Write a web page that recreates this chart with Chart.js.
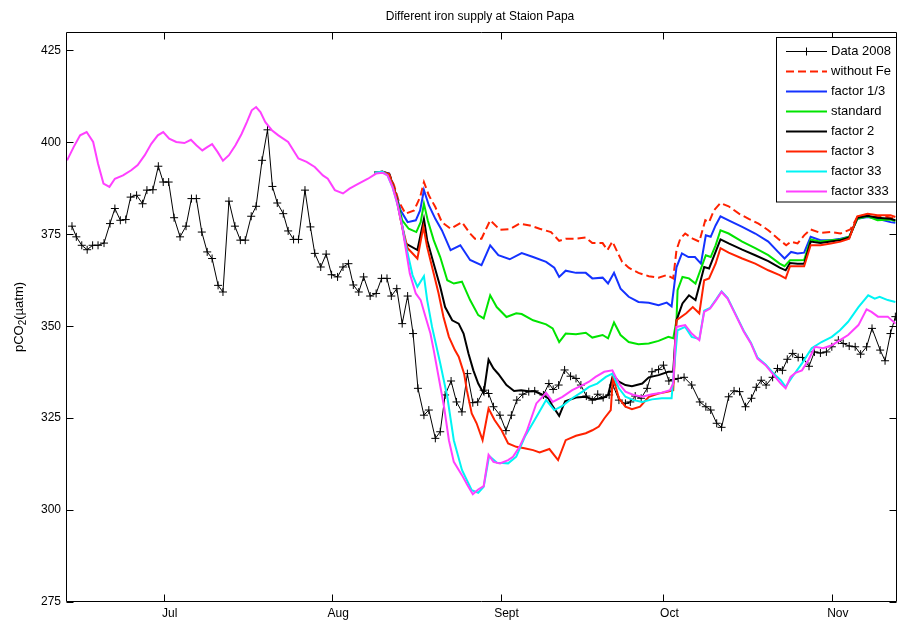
<!DOCTYPE html>
<html>
<head>
<meta charset="utf-8">
<script src="https://cdn.jsdelivr.net/npm/chart.js@4.4.1/dist/chart.umd.min.js"></script>
<style>
html,body{margin:0;padding:0;background:#fff;}
canvas{display:block;}
</style>
</head>
<body>
<canvas id="c" width="902" height="622"></canvas>
<script>
// ---- axis ticks (day of year 2008) ----
const monthTicks = [183, 214, 245, 275, 306];
const monthLabels = ['Jul', 'Aug', 'Sept', 'Oct', 'Nov'];
const yTicks = [275, 300, 325, 350, 375, 400, 425];
const seriesNames = ['Data 2008', 'without Fe', 'factor 1/3', 'standard', 'factor 2', 'factor 3', 'factor 33', 'factor 333'];

// ---- Data 2008 ----
const dataDays = [166.1,166.9,167.9,168.9,169.9,170.9,172.0,173.1,174.0,175.0,176.0,176.9,178.0,179.1,179.9,181.0,182.0,182.9,183.9,184.9,186.0,187.1,188.1,189.0,190.0,191.0,191.9,193.0,193.9,195.0,196.1,197.1,198.0,199.1,200.0,201.1,202.1,203.0,203.9,205.0,205.9,206.9,207.8,209.0,210.0,210.8,211.9,212.9,213.9,215.0,216.0,217.0,217.9,218.9,219.8,221.0,222.1,223.1,224.1,224.9,225.9,226.9,227.9,228.9,229.8,230.9,231.8,233.0,233.9,234.8,235.9,236.9,237.9,238.9,239.9,240.8,241.9,242.8,243.7,244.9,246.0,247.0,248.0,249.1,250.2,251.3,252.9,253.9,254.7,255.7,256.8,257.9,258.9,259.8,260.8,261.9,262.9,263.9,265.0,265.7,266.8,268.0,268.9,269.8,270.9,272.0,272.9,274.1,275.0,276.0,276.9,277.7,278.8,280.2,281.7,282.8,283.7,284.8,285.7,287.0,288.0,289.0,290.1,291.2,292.1,293.0,293.9,295.1,296.0,296.9,297.8,298.8,299.8,300.6,301.8,302.8,303.9,305.0,306.0,307.2,308.1,309.2,310.3,311.3,312.4,313.4,314.9,315.8,316.8,317.7];
const dataValues = [377.2,374.3,372.0,370.8,372.0,372.0,372.6,377.9,382.0,378.8,379.0,385.1,385.6,383.3,387.0,387.1,393.5,389.2,389.2,379.5,374.3,377.2,384.7,384.7,375.6,370.2,368.4,361.1,359.3,384.0,377.2,373.4,373.4,379.9,382.6,395.1,403.4,388.0,383.5,380.6,375.9,373.6,373.6,387.0,377.0,369.8,366.1,369.6,364.0,363.4,366.1,367.0,361.2,359.3,363.4,358.2,358.9,363.0,363.0,358.2,360.2,350.7,358.2,348.0,333.1,325.8,327.2,319.5,321.3,331.3,335.1,329.4,326.7,337.1,329.2,329.4,332.6,331.7,328.1,325.8,321.6,325.8,329.9,331.5,332.2,332.4,331.3,334.4,332.8,334.0,338.1,336.4,335.8,334.0,331.0,329.9,331.5,330.6,331.3,334.0,329.9,329.0,329.4,331.0,330.4,333.1,337.6,338.2,339.4,335.1,335.5,335.8,336.1,334.0,329.4,328.1,327.2,323.6,322.5,330.8,332.4,332.2,328.1,330.4,333.4,335.3,334.0,336.1,338.5,338.0,341.0,342.6,341.5,341.5,339.1,343.0,342.7,343.0,344.4,346.2,345.3,344.6,344.4,342.4,344.4,349.4,343.5,340.6,348.0,352.6];

// ---- without Fe ----
const noFeDays = [221.8,223.3,224.5,225.4,226.3,227.5,229.1,230.2,230.9,231.8,233.0,234.2,235.8,237.9,239.4,240.3,241.5,243.1,244.9,246.7,248.5,250.4,252.2,254.3,255.8,257.0,258.9,260.7,261.9,263.8,264.7,265.6,266.5,267.4,268.6,270.4,272.3,274.1,275.6,276.8,277.4,278.1,279.0,280.4,281.6,282.7,283.4,284.3,285.5,287.0,288.9,290.7,292.5,294.3,296.1,297.6,298.5,299.7,300.9,302.1,303.9,305.8,307.6,309.4,310.7,312.2,313.8,315.6,317.7];
const noFeValues = [391.8,392.0,391.5,388.3,383.8,380.6,381.5,385.1,389.2,385.6,382.4,378.3,376.5,378.3,375.2,373.8,373.8,378.8,376.2,376.4,377.9,377.4,376.5,375.6,373.2,373.8,373.8,374.1,372.6,372.6,370.7,373.0,370.2,367.5,365.9,364.5,363.6,363.2,363.9,363.0,370.7,373.8,375.2,373.8,373.0,378.8,378.3,381.5,383.5,382.6,380.6,379.2,377.9,376.1,373.8,372.0,373.0,372.5,374.7,376.3,375.4,375.6,375.2,376.3,379.7,380.3,379.7,379.9,379.2];

// ---- factor 1/3 ----
const f13Days = [221.8,223.3,224.5,225.7,226.6,227.9,229.4,230.2,230.9,231.8,233.0,234.2,235.8,237.6,239.4,241.5,243.1,244.6,246.7,248.9,251.0,253.4,254.9,255.8,257.0,258.9,260.7,261.9,263.8,264.8,265.9,267.1,268.6,270.4,272.3,274.1,275.6,276.5,277.4,278.4,279.6,280.8,281.9,282.8,283.7,284.6,285.5,287.0,289.5,291.9,294.3,296.1,297.3,298.5,299.7,300.9,302.1,303.9,305.8,307.6,309.2,310.7,312.6,314.4,316.8,317.7];
const f13Values = [391.8,392.0,391.5,386.1,381.5,378.3,378.8,381.5,387.0,382.9,379.2,376.1,370.7,372.0,368.0,366.6,372.0,369.3,368.2,369.9,368.8,367.5,365.9,363.4,365.1,364.5,364.5,363.0,363.2,361.6,364.5,360.2,358.0,356.6,356.4,355.7,356.4,355.4,366.0,369.8,368.8,368.8,367.0,374.7,374.3,377.4,379.9,378.8,377.0,375.2,373.0,370.2,368.4,370.2,369.8,370.0,374.3,373.4,373.4,373.8,374.3,379.2,379.7,379.2,378.3,378.1];

// ---- standard ----
const stdDays = [221.8,223.3,224.5,225.7,226.9,228.1,229.5,230.3,230.9,231.6,232.7,233.9,235.2,236.4,237.9,239.4,240.9,241.9,243.1,244.3,246.1,247.9,248.9,251.0,253.4,254.6,255.8,257.0,258.9,260.7,261.9,263.8,264.8,265.9,267.1,268.6,270.4,272.3,274.1,275.9,276.8,277.4,277.6,278.5,279.7,280.9,282.8,283.7,284.6,285.5,287.0,289.5,291.9,294.3,296.4,297.3,298.3,299.7,300.9,302.1,303.9,305.8,307.6,309.2,310.7,312.6,314.4,316.8,317.7];
const stdValues = [391.8,392.0,391.3,386.0,378.8,376.5,375.6,378.3,383.3,378.8,373.4,368.8,362.5,361.6,362.1,357.1,353.0,352.1,358.4,355.2,352.5,353.5,353.3,351.6,350.5,349.4,345.7,348.0,347.8,348.2,346.9,347.6,346.7,351.0,347.6,345.7,345.1,345.3,346.0,347.1,346.7,351.6,359.8,363.4,363.0,361.6,369.3,368.8,372.0,376.1,375.2,373.0,371.2,369.3,367.0,366.3,367.9,367.9,368.0,373.6,373.0,373.4,373.6,374.3,379.2,379.9,378.8,379.0,378.6];

// ---- factor 2 ----
const f2Days = [221.8,223.3,224.5,225.7,226.6,227.5,229.7,230.9,231.5,232.7,233.9,234.8,236.1,237.3,238.2,239.1,240.0,240.9,241.9,242.8,243.7,244.6,246.1,247.5,248.8,250.2,251.3,252.5,253.8,254.5,255.8,256.9,258.9,260.7,261.9,263.8,264.8,265.7,266.8,268.0,269.2,271.1,272.3,274.1,275.9,276.8,277.4,278.5,279.7,280.9,282.5,283.4,284.6,285.5,287.0,289.5,291.9,294.3,296.4,297.5,298.3,299.7,300.9,302.1,303.9,305.8,307.6,309.2,310.7,312.6,314.4,316.8,317.7];
const f2Values = [391.8,392.0,391.3,386.0,379.5,372.5,370.7,379.2,373.4,367.0,360.7,355.2,351.6,350.7,348.0,342.6,338.0,334.4,331.7,340.9,338.5,337.0,334.0,332.4,332.6,332.3,332.3,331.5,330.4,328.5,325.6,329.6,330.6,330.8,330.1,330.4,331.3,336.7,334.9,334.0,333.7,334.4,336.1,336.7,337.6,337.6,351.6,356.2,358.4,357.1,366.1,365.7,370.2,373.6,372.5,370.8,369.3,367.7,365.9,365.2,367.2,367.0,367.0,373.0,372.6,373.0,373.4,374.1,379.5,380.0,379.5,379.2,378.8];

// ---- factor 3 ----
const f3Days = [221.8,223.3,224.5,225.7,226.6,227.9,229.7,230.8,231.5,232.7,233.6,234.5,235.5,236.6,237.3,238.3,238.8,239.7,240.6,241.7,242.8,243.9,245.2,246.4,247.9,249.4,251.0,252.2,254.0,255.6,257.0,258.9,260.7,261.9,263.1,264.1,265.3,265.7,266.8,268.0,269.2,270.7,272.3,274.1,275.9,276.8,277.4,279.2,280.4,281.6,282.5,283.4,284.6,285.5,287.0,289.5,291.9,294.3,296.4,297.5,298.3,299.7,300.9,302.1,303.9,305.8,307.6,309.2,310.7,312.6,314.4,316.8,317.7];
const f3Values = [391.8,392.0,391.3,386.0,379.0,371.2,368.4,377.0,371.5,364.3,358.9,352.5,347.1,343.5,341.7,337.1,332.6,326.3,323.6,319.0,327.6,324.5,321.7,318.1,317.2,316.8,316.3,315.7,316.6,313.6,319.0,320.2,320.9,321.7,322.7,324.9,327.2,336.2,330.4,328.1,327.4,328.1,330.8,331.7,332.2,332.6,351.6,353.5,355.2,353.5,362.5,363.0,367.0,371.2,370.0,368.4,367.0,365.2,363.9,363.0,366.3,366.3,366.3,372.0,372.0,372.5,373.0,373.8,379.9,380.6,380.2,380.2,379.7];

// ---- factor 33 ----
const f33Days = [221.8,223.3,224.2,225.1,226.0,226.9,227.5,228.8,229.7,230.9,231.5,232.4,233.9,235.2,236.4,237.9,239.7,240.9,241.9,242.9,244.3,246.4,247.9,249.5,251.6,253.4,254.9,256.4,258.2,260.1,261.3,262.8,264.4,265.6,266.8,268.0,269.5,271.1,272.9,274.7,276.5,277.1,277.6,279.0,280.2,281.6,282.5,283.6,284.7,285.7,286.8,288.3,289.8,291.1,292.3,293.8,295.3,296.6,297.5,298.7,300.5,302.3,304.1,306.0,307.5,309.0,310.9,312.7,313.9,314.8,316.3,317.7];
const f33Values = [391.8,392.0,391.0,387.9,383.3,377.5,372.5,363.9,360.7,363.6,357.1,349.8,339.9,330.8,319.0,310.9,305.4,304.7,306.3,314.7,312.9,312.7,314.5,320.0,325.3,329.9,327.2,328.3,330.4,332.2,333.5,334.4,336.2,337.1,333.1,330.8,329.9,329.4,330.1,330.4,330.4,340.8,348.9,349.8,347.1,346.5,354.2,355.0,357.3,359.5,357.7,353.2,348.7,345.5,341.5,339.6,337.1,335.3,333.5,336.2,339.9,344.0,345.7,347.1,348.9,351.2,355.2,358.4,357.5,358.0,357.1,356.6];

// ---- factor 333 ----
const f333Days = [165.2,166.4,167.6,168.8,170.0,170.9,171.9,173.0,174.0,175.5,177.0,178.2,179.5,180.7,181.9,182.9,184.0,185.3,186.8,188.0,189.0,190.1,191.0,191.9,192.9,193.9,195.0,196.2,197.3,198.3,199.2,200.0,200.8,201.7,202.9,204.1,205.9,207.8,209.3,210.8,212.3,213.2,214.5,216.0,217.2,218.7,220.6,222.1,223.3,224.2,225.1,226.0,226.9,227.5,228.3,229.4,230.3,231.2,232.1,232.7,233.6,234.6,235.5,236.4,237.9,238.9,239.9,240.9,241.9,242.8,243.7,244.9,246.4,247.3,248.5,249.8,251.6,253.4,254.6,256.4,258.2,260.1,261.3,262.5,264.1,265.6,266.8,268.0,269.5,271.1,272.9,274.7,276.2,276.8,277.2,277.4,279.0,280.2,281.6,282.5,283.6,284.7,285.7,286.8,288.3,289.8,291.1,292.3,293.8,295.3,296.6,297.5,298.4,299.3,300.5,301.7,302.9,304.4,306.0,307.5,309.0,310.9,312.4,313.3,314.5,316.3,317.7];
const f333Values = [395.1,398.7,401.9,402.8,400.1,394.2,388.8,387.9,390.1,391.0,392.4,393.8,396.5,399.6,401.9,402.8,401.0,400.1,399.8,400.7,399.2,397.8,398.7,399.5,397.4,395.0,396.5,399.2,402.2,405.5,408.7,409.6,408.2,405.5,403.3,401.9,400.1,395.6,394.7,393.3,391.0,390.1,387.0,386.1,387.4,388.6,390.1,391.5,391.7,391.0,387.9,383.3,377.0,371.5,364.3,358.9,357.1,352.5,348.0,343.5,336.2,328.1,319.0,313.1,309.5,306.8,304.3,305.6,306.5,315.0,313.1,312.7,313.6,314.5,317.2,321.3,329.0,331.9,329.4,330.8,332.6,334.0,334.9,336.2,337.6,338.0,334.4,332.2,331.3,330.8,331.5,331.9,332.6,334.4,346.2,349.8,350.3,348.0,346.2,353.9,354.8,357.1,359.3,357.5,353.0,348.5,345.3,341.2,339.4,336.7,334.4,333.1,336.2,337.3,338.0,340.8,344.4,344.0,344.8,346.2,347.6,350.3,354.6,353.9,352.6,352.6,350.7];

const FONT = 'Liberation Sans, Arial, Helvetica, sans-serif';
const toXY = (xs, ys) => xs.map((x, i) => ({x: x, y: ys[i]}));

const styles = [
  {color: '#000000', width: 1, dash: [], marker: true},
  {color: '#ff2200', width: 2, dash: [8, 4]},
  {color: '#1432ff', width: 2, dash: []},
  {color: '#00e400', width: 2, dash: []},
  {color: '#000000', width: 2, dash: []},
  {color: '#ff2200', width: 2, dash: []},
  {color: '#00f4f4', width: 2, dash: []},
  {color: '#ff40ff', width: 2, dash: []}
];
const seriesData = [
  toXY(dataDays, dataValues), toXY(noFeDays, noFeValues), toXY(f13Days, f13Values),
  toXY(stdDays, stdValues), toXY(f2Days, f2Values), toXY(f3Days, f3Values),
  toXY(f33Days, f33Values), toXY(f333Days, f333Values)
];

const datasets = seriesData.map((d, i) => ({
  label: seriesNames[i],
  data: d,
  borderColor: styles[i].color,
  backgroundColor: styles[i].color,
  borderWidth: styles[i].width,
  borderDash: styles[i].dash,
  pointStyle: 'cross',
  pointRadius: styles[i].marker ? 4 : 0,
  pointBorderWidth: 1,
  pointBorderColor: styles[i].color,
  tension: 0,
  fill: false,
  order: -i
}));

const framePlugin = {
  id: 'frame',
  beforeDraw(chart) {
    const ctx = chart.ctx;
    ctx.save();
    ctx.fillStyle = '#fff';
    ctx.fillRect(0, 0, chart.width, chart.height);
    ctx.restore();
  },
  afterDatasetsDraw(chart) {
    const ctx = chart.ctx;
    const a = chart.chartArea;
    const xs = chart.scales.x, ys = chart.scales.y;
    const L = Math.round(a.left) + 0.5, R = Math.round(a.right) - 0.5;
    const T = Math.round(a.top) + 0.5, B = Math.round(a.bottom) - 0.5;
    ctx.save();
    ctx.strokeStyle = '#000';
    ctx.lineWidth = 1;
    ctx.setLineDash([]);
    ctx.beginPath();
    ctx.rect(L, T, R - L, B - T);
    ctx.stroke();
    const tl = 7;
    ctx.beginPath();
    yTicks.forEach(v => {
      const p = Math.round(ys.getPixelForValue(v)) + 0.5;
      ctx.moveTo(L, p); ctx.lineTo(L + tl, p);
      ctx.moveTo(R, p); ctx.lineTo(R - tl, p);
    });
    monthTicks.forEach(v => {
      const p = Math.round(xs.getPixelForValue(v)) + 0.5;
      ctx.moveTo(p, B); ctx.lineTo(p, B - tl);
      ctx.moveTo(p, T); ctx.lineTo(p, T + tl);
    });
    ctx.stroke();

    // legend box
    const bx = 776.5, by = 37.5, bw = R - bx, rowH = 20.1, y0 = 50.7;
    const bh = 164.5;
    ctx.fillStyle = '#fff';
    ctx.fillRect(bx, by, bw, bh);
    ctx.strokeStyle = '#000';
    ctx.strokeRect(bx, by, bw, bh);
    ctx.font = '13px ' + FONT;
    ctx.textBaseline = 'middle';
    ctx.textAlign = 'left';
    seriesNames.forEach((name, i) => {
      const yy = Math.round(y0 + i * rowH) + 0.5;
      const s = styles[i];
      ctx.strokeStyle = s.color;
      ctx.lineWidth = s.width;
      ctx.setLineDash(s.dash);
      ctx.beginPath();
      ctx.moveTo(786, yy); ctx.lineTo(827, yy);
      ctx.stroke();
      ctx.setLineDash([]);
      if (s.marker) {
        ctx.lineWidth = 1;
        ctx.beginPath();
        ctx.moveTo(806.5, yy - 4); ctx.lineTo(806.5, yy + 4);
        ctx.moveTo(802.5, yy); ctx.lineTo(810.5, yy);
        ctx.stroke();
      }
      ctx.fillStyle = '#000';
      ctx.fillText(name, 831, yy);
    });

    // title
    ctx.font = '12px ' + FONT;
    ctx.textAlign = 'center';
    ctx.fillStyle = '#000';
    ctx.fillText('Different iron supply at Staion Papa', 480, 17);

    // y axis title with subscript
    ctx.translate(19, (a.top + a.bottom) / 2);
    ctx.rotate(-Math.PI / 2);
    const big = '13px ' + FONT, small = '10px ' + FONT;
    ctx.font = big; const w1 = ctx.measureText('pCO').width; const w3 = ctx.measureText('(\u00b5atm)').width;
    ctx.font = small; const w2 = ctx.measureText('2').width;
    let x = -(w1 + w2 + w3) / 2;
    ctx.textAlign = 'left';
    ctx.font = big; ctx.fillText('pCO', x, 0); x += w1;
    ctx.font = small; ctx.fillText('2', x, 4); x += w2;
    ctx.font = big; ctx.fillText('(\u00b5atm)', x, 0);
    ctx.restore();
  }
};

new Chart(document.getElementById('c'), {
  type: 'line',
  data: {datasets: datasets},
  plugins: [framePlugin],
  options: {
    responsive: false,
    animation: false,
    layout: {padding: {top: 32, right: 1, left: 0, bottom: 0}},
    plugins: {legend: {display: false}, title: {display: false}, tooltip: {enabled: false}},
    scales: {
      x: {
        type: 'linear', min: 165, max: 318,
        grid: {display: false, drawTicks: false}, border: {display: false},
        afterBuildTicks: s => { s.ticks = monthTicks.map(v => ({value: v})); },
        afterFit: s => { s.height = 20; },
        ticks: {
          autoSkip: false, maxRotation: 0, padding: 4, color: '#000', labelOffset: 6,
          font: {family: FONT, size: 12},
          callback: v => monthLabels[monthTicks.indexOf(v)]
        }
      },
      y: {
        min: 275, max: 430,
        grid: {display: false, drawTicks: false}, border: {display: false},
        afterBuildTicks: s => { s.ticks = yTicks.map(v => ({value: v})); },
        afterFit: s => { s.width = 66; },
        ticks: {padding: 5, color: '#000', font: {family: FONT, size: 12}}
      }
    }
  }
});
</script>
</body>
</html>
